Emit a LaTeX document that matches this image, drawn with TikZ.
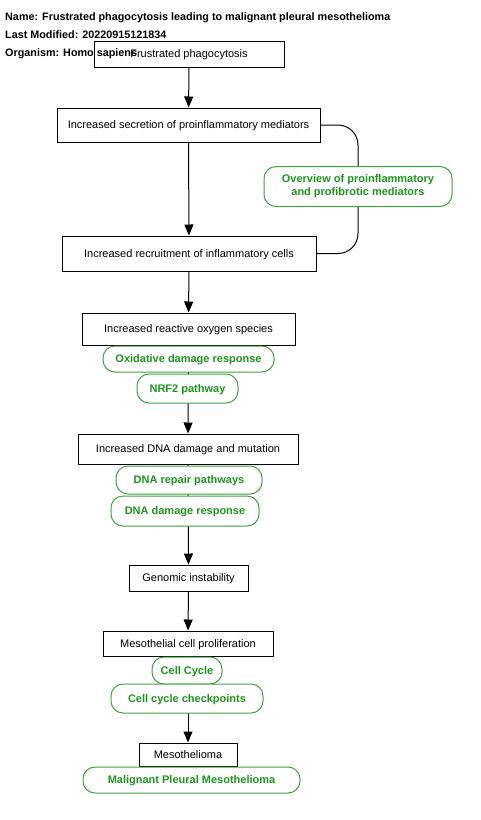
\documentclass[tikz,border=0pt]{standalone}
\usepackage{fontspec}
\setmainfont{Liberation Sans}
\usetikzlibrary{arrows.meta,backgrounds}

\definecolor{pwline}{HTML}{3FA33F}
\definecolor{pwtext}{HTML}{1E961E}

\tikzset{
  ke/.style={draw, fill=white, line width=1pt, inner sep=0pt,
             text height=8pt, text depth=0.5pt,
             font=\fontsize{11}{13}\selectfont},
  pw/.style={draw=pwline, fill=white, line width=1pt, rounded corners=12pt,
             inner sep=0pt, text height=8pt, text depth=0.5pt,
             text=pwtext, font=\fontsize{11}{13}\selectfont\bfseries},
  hdr/.style={anchor=base west, inner sep=0pt, font=\fontsize{10.8}{13}\selectfont\bfseries},
  ker/.style={-{Triangle[width=9pt,length=11pt]}, line width=1pt},
}

\begin{document}
\begin{tikzpicture}[x=1pt,y=-1pt]
\useasboundingbox (0,0) rectangle (480,820);

% key events
\node[ke, minimum width=190pt, minimum height=26pt] (frust) at (189,54) {Frustrated phagocytosis};
\node[ke, minimum width=263pt, minimum height=34pt] (secr) at (188.5,125) {Increased secretion of proinflammatory mediators};
\node[ke, minimum width=254pt, minimum height=35pt] (recr) at (189,253.5) {Increased recruitment of inflammatory cells};
\node[ke, minimum width=213pt, minimum height=32pt] (ros) at (188.5,329) {Increased reactive oxygen species};
\node[ke, minimum width=220pt, minimum height=30pt] (dna) at (188,449) {Increased DNA damage and mutation};
\node[ke, minimum width=119pt, minimum height=26pt] (geno) at (188.5,578) {Genomic instability};
\node[ke, minimum width=170pt, minimum height=25pt] (prolif) at (188,643.5) {Mesothelial cell proliferation};
\node[ke, minimum width=98pt, minimum height=23pt] (meso) at (188,754.5) {Mesothelioma};

% pathways
\node[pw, text height=, text depth=, minimum width=188pt, minimum height=40pt, align=center] (overview) at (358,186.5)
  {Overview of proinflammatory\\and profibrotic mediators};
\node[pw, minimum width=171pt, minimum height=26pt] (oxid) at (188.5,359) {Oxidative damage response};
\node[pw, minimum width=101pt, minimum height=29pt] (nrf) at (187.5,388.5) {NRF2 pathway};
\node[pw, minimum width=146pt, minimum height=28pt] (repair) at (189,480) {DNA repair pathways};
\node[pw, minimum width=148pt, minimum height=30pt] (ddr) at (185,511) {DNA damage response};
\node[pw, minimum width=70pt, minimum height=27pt] (cc) at (187,670.5) {Cell Cycle};
\node[pw, minimum width=152pt, minimum height=29pt] (ccc) at (187,698.5) {Cell cycle checkpoints};
\node[pw, minimum width=217pt, minimum height=26pt] (mpm) at (191.5,780) {Malignant Pleural Mesothelioma};

% relationships
\begin{pgfonlayer}{background}
\draw[ker] (frust) -- (secr);
\draw[ker] (secr) -- (recr);
\draw[ker] (recr) -- (ros);
\draw[ker] (ros) -- (dna);
\draw[ker] (dna) -- (geno);
\draw[ker] (geno) -- (prolif);
\draw[ker] (prolif) -- (meso);
\draw[line width=1pt, rounded corners=20pt] (secr.east) -| (358,200) |- (recr.east);
\end{pgfonlayer}

% header
\node[hdr] (name) at (5,20) {Name: Frustrated phagocytosis leading to malignant pleural mesothelioma};
\node[hdr] (mod) at (5,38) {Last Modified: 20220915121834};
\node[hdr] (org) at (5,56) {Organism: Homo sapiens};
\end{tikzpicture}
\end{document}
